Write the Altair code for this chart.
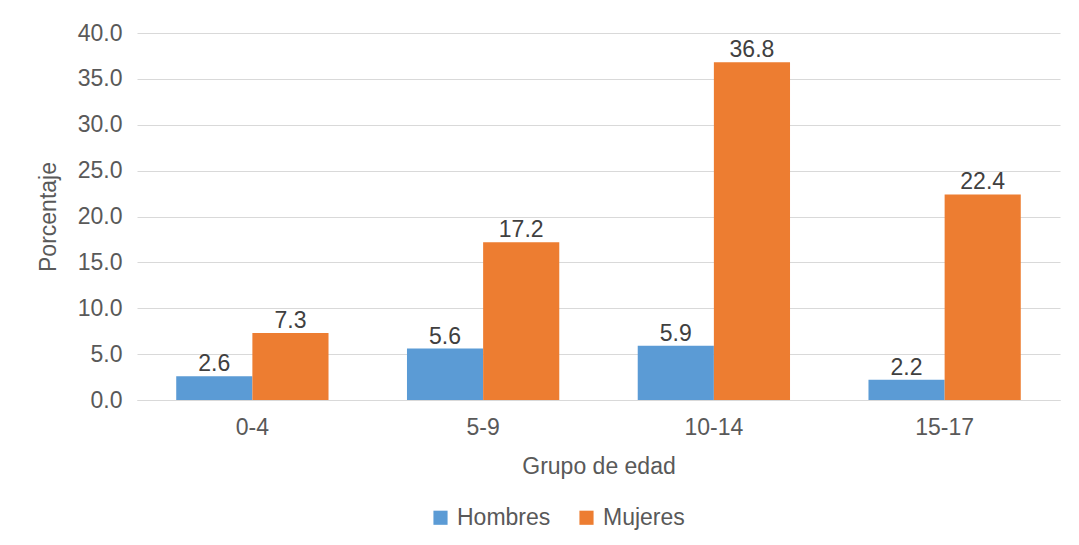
import altair as alt
import pandas as pd

grupos = ["0-4", "5-9", "10-14", "15-17"]
hombres = [2.6, 5.6, 5.9, 2.2]
mujeres = [7.3, 17.2, 36.8, 22.4]
series = ["Hombres", "Mujeres"]
colores = ["#5B9BD5", "#ED7D31"]
y_ticks = [0, 5, 10, 15, 20, 25, 30, 35, 40]

rows = []
for g, h, m in zip(grupos, hombres, mujeres):
    rows.append({"grupo": g, "sexo": "Hombres", "valor": h})
    rows.append({"grupo": g, "sexo": "Mujeres", "valor": m})
df = pd.DataFrame(rows)

FONT = "Liberation Sans"
FS = 23

x_enc = alt.X(
    "grupo:N",
    sort=grupos,
    scale=alt.Scale(paddingInner=0.34, paddingOuter=0.17),
    axis=alt.Axis(
        title="Grupo de edad",
        labelAngle=0,
        ticks=False,
        domainColor="#D9D9D9",
        labelPadding=16,
        titlePadding=16,
    ),
)
y_enc = alt.Y(
    "valor:Q",
    scale=alt.Scale(domain=[0, 40], nice=False),
    axis=alt.Axis(
        title="Porcentaje",
        values=y_ticks,
        format=".1f",
        ticks=False,
        domain=False,
        gridColor="#D9D9D9",
        labelPadding=15,
        titlePadding=17,
    ),
)
color_enc = alt.Color(
    "sexo:N",
    scale=alt.Scale(domain=series, range=colores),
    legend=alt.Legend(
        title=None,
        orient="none",
        direction="horizontal",
        legendX=292,
        legendY=473,
        symbolType="square",
        symbolSize=200,
        symbolStrokeWidth=0,
        labelFontSize=FS,
        labelColor="#595959",
        labelFont=FONT,
        columnPadding=24,
        labelOffset=5,
    ),
)

base = alt.Chart(df).encode(
    x=x_enc,
    xOffset=alt.XOffset("sexo:N", sort=series, scale=alt.Scale(paddingInner=0, paddingOuter=0)),
)

bars = base.mark_bar().encode(y=y_enc, color=color_enc)
labels = base.mark_text(
    baseline="alphabetic", dy=-5, fontSize=FS, font=FONT, color="#404040"
).encode(y="valor:Q", text=alt.Text("valor:Q", format=".1f"))

chart = (
    alt.layer(bars, labels)
    .properties(
        width=923,
        height=367,
        autosize=alt.AutoSizeParams(type="none"),
        padding={"left": 129, "top": 25, "right": 10, "bottom": 130},
    )
    .configure(background="white")
    .configure_view(stroke=None)
    .configure_axis(
        labelFont=FONT,
        titleFont=FONT,
        labelFontSize=FS,
        titleFontSize=FS,
        labelColor="#595959",
        titleColor="#595959",
        titleFontWeight="normal",
    )
)

chart.save("out.html", embed_options={"renderer": "svg", "actions": False})
